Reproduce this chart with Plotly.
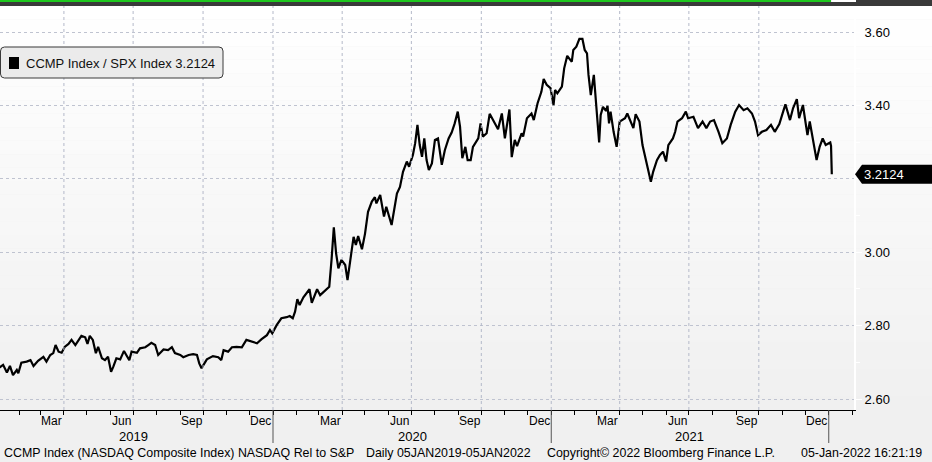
import pandas as pd
import plotly.graph_objects as go

# CCMP / SPX ratio
dates = [
    "2019-01-05", "2019-01-11", "2019-01-16", "2019-01-20", "2019-01-24", "2019-01-29", "2019-01-31",
    "2019-02-04", "2019-02-11", "2019-02-16", "2019-02-20", "2019-02-26", "2019-03-05", "2019-03-09",
    "2019-03-14", "2019-03-18", "2019-03-21", "2019-03-25", "2019-03-29", "2019-04-02", "2019-04-07",
    "2019-04-11", "2019-04-16", "2019-04-20", "2019-04-24", "2019-04-29", "2019-05-02", "2019-05-05",
    "2019-05-09", "2019-05-13", "2019-05-16", "2019-05-21", "2019-05-25", "2019-05-29", "2019-06-02",
    "2019-06-05", "2019-06-09", "2019-06-14", "2019-06-19", "2019-06-22", "2019-06-26", "2019-06-29",
    "2019-07-06", "2019-07-10", "2019-07-17", "2019-07-21", "2019-07-25", "2019-07-30", "2019-08-03",
    "2019-08-10", "2019-08-16", "2019-08-21", "2019-08-25", "2019-09-01", "2019-09-05", "2019-09-12",
    "2019-09-18", "2019-09-23", "2019-09-26", "2019-09-29", "2019-10-06", "2019-10-14", "2019-10-21",
    "2019-10-25", "2019-10-28", "2019-11-03", "2019-11-08", "2019-11-14", "2019-11-21", "2019-11-27",
    "2019-12-04", "2019-12-11", "2019-12-17", "2019-12-24", "2019-12-28", "2019-12-31",
    "2020-01-06", "2020-01-12", "2020-01-19", "2020-01-23", "2020-01-27", "2020-01-30", "2020-02-02",
    "2020-02-05", "2020-02-10", "2020-02-18", "2020-02-21", "2020-02-28", "2020-03-03", "2020-03-09",
    "2020-03-15", "2020-03-18", "2020-03-21", "2020-03-24", "2020-03-27", "2020-03-31", "2020-04-05",
    "2020-04-08", "2020-04-12", "2020-04-16", "2020-04-19", "2020-04-22", "2020-04-27", "2020-05-01",
    "2020-05-05", "2020-05-10", "2020-05-14", "2020-05-16", "2020-05-21", "2020-05-23", "2020-05-26",
    "2020-05-29", "2020-06-05", "2020-06-12", "2020-06-16", "2020-06-20", "2020-06-25", "2020-06-28",
    "2020-07-03", "2020-07-06", "2020-07-09", "2020-07-12", "2020-07-15", "2020-07-18", "2020-07-21",
    "2020-07-24", "2020-07-28", "2020-08-01", "2020-08-05", "2020-08-10", "2020-08-14", "2020-08-19",
    "2020-08-23", "2020-08-27", "2020-08-31", "2020-09-03", "2020-09-06", "2020-09-10", "2020-09-13",
    "2020-09-17", "2020-09-20", "2020-09-27", "2020-09-30", "2020-10-03", "2020-10-08", "2020-10-12",
    "2020-10-17", "2020-10-23", "2020-10-28", "2020-11-01", "2020-11-07", "2020-11-10", "2020-11-14",
    "2020-11-17", "2020-11-23", "2020-11-25", "2020-11-30", "2020-12-06", "2020-12-09", "2020-12-14",
    "2020-12-19", "2020-12-22", "2020-12-26", "2020-12-31",
    "2021-01-04", "2021-01-06", "2021-01-09", "2021-01-15", "2021-01-18", "2021-01-22", "2021-01-26",
    "2021-01-28", "2021-01-30", "2021-02-03", "2021-02-07", "2021-02-11", "2021-02-14", "2021-02-17",
    "2021-02-19", "2021-02-22", "2021-02-26", "2021-03-01", "2021-03-03", "2021-03-05", "2021-03-07",
    "2021-03-10", "2021-03-14", "2021-03-16", "2021-03-18", "2021-03-20", "2021-03-24", "2021-03-28",
    "2021-04-01", "2021-04-08", "2021-04-11", "2021-04-15", "2021-04-19", "2021-04-22", "2021-04-27",
    "2021-05-01", "2021-05-06", "2021-05-09", "2021-05-12", "2021-05-15", "2021-05-20", "2021-05-24",
    "2021-05-28", "2021-06-01", "2021-06-04", "2021-06-10", "2021-06-13", "2021-06-16", "2021-06-22",
    "2021-06-27", "2021-06-30", "2021-07-07", "2021-07-13", "2021-07-19", "2021-07-24", "2021-07-29",
    "2021-08-03", "2021-08-09", "2021-08-14", "2021-08-20", "2021-08-25", "2021-08-31", "2021-09-05",
    "2021-09-11", "2021-09-16", "2021-09-22", "2021-09-26", "2021-09-30", "2021-10-05", "2021-10-11",
    "2021-10-17", "2021-10-22", "2021-10-28", "2021-11-02", "2021-11-05", "2021-11-11", "2021-11-15",
    "2021-11-20", "2021-11-23", "2021-11-28", "2021-12-02", "2021-12-04", "2021-12-07", "2021-12-12",
    "2021-12-16", "2021-12-20", "2021-12-24", "2021-12-28", "2022-01-03", "2022-01-04", "2022-01-05",
]
ratio = [
    2.684, 2.693, 2.672, 2.690, 2.665, 2.679, 2.670,
    2.699, 2.702, 2.706, 2.690, 2.704, 2.715, 2.702,
    2.720, 2.725, 2.747, 2.729, 2.726, 2.742, 2.750,
    2.761, 2.747, 2.761, 2.772, 2.768, 2.750, 2.772,
    2.761, 2.725, 2.742, 2.711, 2.706, 2.715, 2.674,
    2.688, 2.711, 2.708, 2.731, 2.720, 2.706, 2.729,
    2.726, 2.738, 2.741, 2.747, 2.753, 2.747, 2.720,
    2.735, 2.733, 2.741, 2.725, 2.720, 2.714, 2.720,
    2.722, 2.720, 2.697, 2.684, 2.708, 2.717, 2.714,
    2.706, 2.733, 2.729, 2.741, 2.742, 2.741, 2.761,
    2.756, 2.752, 2.763, 2.774, 2.788, 2.779,
    2.802, 2.820, 2.823, 2.826, 2.820, 2.838, 2.872,
    2.856, 2.877, 2.899, 2.862, 2.899, 2.883, 2.895,
    2.906, 2.979, 3.068, 2.997, 2.956, 2.979, 2.965,
    2.924, 2.979, 3.042, 3.020, 3.044, 3.008, 3.050,
    3.110, 3.138, 3.150, 3.133, 3.156, 3.133, 3.097,
    3.124, 3.074, 3.160, 3.178, 3.219, 3.247, 3.233,
    3.265, 3.297, 3.347, 3.292, 3.260, 3.310, 3.251,
    3.224, 3.242, 3.306, 3.310, 3.238, 3.278, 3.310,
    3.326, 3.351, 3.383, 3.342, 3.256, 3.287, 3.251,
    3.251, 3.287, 3.310, 3.351, 3.315, 3.324, 3.377,
    3.356, 3.335, 3.378, 3.310, 3.389, 3.259, 3.306,
    3.289, 3.324, 3.315, 3.365, 3.378, 3.360, 3.406,
    3.437, 3.472, 3.456, 3.447,
    3.401, 3.442, 3.433, 3.451, 3.501, 3.535, 3.524,
    3.519, 3.551, 3.560, 3.581, 3.581, 3.551, 3.542,
    3.483, 3.428, 3.483, 3.401, 3.360, 3.299, 3.374,
    3.396, 3.385, 3.399, 3.351, 3.383, 3.328, 3.287,
    3.356, 3.365, 3.378, 3.360, 3.338, 3.376, 3.356,
    3.292, 3.247, 3.219, 3.192, 3.219, 3.251, 3.265,
    3.274, 3.247, 3.292, 3.310, 3.328, 3.356, 3.365,
    3.383, 3.365, 3.369, 3.338, 3.356, 3.338, 3.356,
    3.360, 3.328, 3.297, 3.310, 3.347, 3.383, 3.401,
    3.387, 3.392, 3.378, 3.356, 3.319, 3.328, 3.333,
    3.347, 3.328, 3.349, 3.383, 3.403, 3.360, 3.392,
    3.417, 3.365, 3.401, 3.347, 3.319, 3.356, 3.301,
    3.251, 3.287, 3.310, 3.292, 3.299, 3.290, 3.2124,
]

series_name = "CCMP Index / SPX Index"
month_names = ["Mar", "Jun", "Sep", "Dec"]
years = ["2019", "2020", "2021"]
y_ticks = [2.60, 2.80, 3.00, 3.20, 3.40, 3.60]
footer = [
    "CCMP Index (NASDAQ Composite Index) NASDAQ Rel to S&P",
    "Daily 05JAN2019-05JAN2022",
    "Copyright\u00a9 2022 Bloomberg Finance L.P.",
    "05-Jan-2022 16:21:19",
]

W, H = 932, 462
L, R, T, B = 0, 78, 9, 52
PW, PH = W - L - R, H - T - B
FONT = "Liberation Sans, Arial, sans-serif"
GRID = "#bfc3d0"
VGRID = "#b4b9c9"


def px(x):  # pixel -> paper x
    return (x - L) / PW


def py(y):  # pixel -> paper y
    return (H - B - y) / PH


last = ratio[-1]
origin = pd.Timestamp("2019-01-01")
day_px = 277.5 / 365
x_range = [origin + pd.Timedelta(days=4.5 / day_px), origin + pd.Timedelta(days=858.5 / day_px)]
y_range = [3.60 - (410 - 32) / 367, 3.60 + (32 - 9) / 367]

fig = go.Figure()
fig.add_trace(go.Scatter(x=pd.to_datetime(dates), y=ratio, mode="lines",
                         line=dict(color="black", width=2.2), hoverinfo="skip"))

shapes = []
# soft white -> grey background
n = 30
for i in range(n):
    g = int(round(255 - 15 * i / (n - 1)))
    shapes.append(dict(type="rect", xref="paper", yref="paper", layer="below",
                       x0=px(0), x1=px(W), y0=py(6 + i * 404 / n), y1=py(6 + (i + 1) * 404 / n),
                       fillcolor=f"rgb({g},{g},{g})", line_width=0))
# quarterly vertical grid (start of Apr / Jul / Oct / Jan)
for d in pd.date_range("2019-04-01", "2021-12-31", freq="QS"):
    ds = d.strftime("%Y-%m-%d")
    shapes.append(dict(type="line", xref="x", yref="paper", x0=ds, x1=ds, y0=0, y1=py(6),
                       line=dict(color=VGRID, width=1, dash="3px,3px")))
# year separators under the axis
for d in pd.date_range("2020-01-01", "2022-01-01", freq="YS"):
    shapes.append(dict(type="line", xref="x", yref="paper", x0=d, x1=d, y0=0, y1=py(443),
                       line=dict(color="#555555", width=1)))
# top strip
shapes.append(dict(type="rect", xref="paper", yref="paper", x0=px(0), x1=px(W), y0=py(6), y1=py(2),
                   fillcolor="#3a3a3a", line_width=0))
shapes.append(dict(type="rect", xref="paper", yref="paper", x0=px(0), x1=px(831), y0=py(2), y1=py(0),
                   fillcolor="#1ec81e", line_width=0))
shapes.append(dict(type="rect", xref="paper", yref="paper", x0=px(832), x1=px(856), y0=py(2), y1=py(0),
                   fillcolor="#ffffff", line_width=0))
shapes.append(dict(type="rect", xref="paper", yref="paper", x0=px(856), x1=px(W), y0=py(2), y1=py(0),
                   fillcolor="#3a3a3a", line_width=0))

# legend box with rounded corners
x0, x1, y0, y1, r = px(0.5), px(223), py(78), py(47), 4
rx, ry = r / PW, r / PH
legend_path = (f"M {x0 + rx},{y0} L {x1 - rx},{y0} Q {x1},{y0} {x1},{y0 + ry} "
               f"L {x1},{y1 - ry} Q {x1},{y1} {x1 - rx},{y1} L {x0 + rx},{y1} "
               f"Q {x0},{y1} {x0},{y1 - ry} L {x0},{y0 + ry} Q {x0},{y0} {x0 + rx},{y0} Z")
shapes.append(dict(type="path", xref="paper", yref="paper", path=legend_path,
                   fillcolor="#ebebeb", line=dict(color="#3a3a3a", width=1)))
shapes.append(dict(type="rect", xref="paper", yref="paper", x0=px(9), x1=px(19), y0=py(69), y1=py(57),
                   fillcolor="black", line_width=0))

# last value tag on the right axis
hy = 9.5 / 367
tag_path = (f"M {px(855)},{last} L {px(862)},{last + hy} L {px(W)},{last + hy} "
            f"L {px(W)},{last - hy} L {px(862)},{last - hy} Z")
shapes.append(dict(type="path", xref="paper", yref="y", path=tag_path, fillcolor="black", line_width=0))

annotations = [
    dict(text=f"{series_name} {last:.4f}", xref="paper", yref="paper", x=px(24), y=py(63),
         xanchor="left", yanchor="middle", showarrow=False, font=dict(family=FONT, size=13, color="#111111")),
    dict(text=f"{last:.4f}", xref="paper", yref="y", x=px(862), y=last, xanchor="left", yanchor="middle",
         showarrow=False, font=dict(family=FONT, size=13, color="white")),
]
# month labels sit in the middle of the month
month_mid = pd.date_range("2019-03-01", "2021-12-31", freq="QS-MAR") + pd.Timedelta(days=15)
for d, name in zip(month_mid, month_names * len(years)):
    annotations.append(dict(text=name, xref="x", yref="paper", x=d, y=py(421),
                            xanchor="center", yanchor="middle", showarrow=False,
                            font=dict(family=FONT, size=12, color="black")))
for yr in years:
    annotations.append(dict(text=yr, xref="x", yref="paper", x=pd.Timestamp(f"{yr}-07-02"), y=py(436),
                            xanchor="center", yanchor="middle", showarrow=False,
                            font=dict(family=FONT, size=13, color="black")))
for txt, xl in zip(footer, [2, 364, 545, 799]):
    annotations.append(dict(text=txt, xref="paper", yref="paper", x=px(xl), y=py(453),
                            xanchor="left", yanchor="middle", showarrow=False,
                            font=dict(family=FONT, size=12.4, color="black")))

# the 3.20 label is covered by the last-value tag in the original
y_text = ["" if abs(v - 3.20) < 1e-9 else f"{v:.2f}" for v in y_ticks]

fig.update_layout(
    width=W, height=H,
    margin=dict(l=L, r=R, t=T, b=B),
    paper_bgcolor="#f0f0f0",
    plot_bgcolor="rgba(0,0,0,0)",
    showlegend=False,
    shapes=shapes,
    annotations=annotations,
    xaxis=dict(
        range=x_range, zeroline=False, showgrid=False,
        showline=True, linecolor="black", linewidth=1,
        showticklabels=False,
        ticks="outside", ticklen=4, tickcolor="black", dtick="M1", tick0="2019-01-01",
    ),
    yaxis=dict(
        range=y_range, side="right", zeroline=False,
        showgrid=True, gridcolor=GRID, griddash="dot", gridwidth=1,
        showline=True, linecolor="white", linewidth=2,
        tickmode="array", tickvals=y_ticks, ticktext=y_text,
        ticks="outside", ticklen=6, tickcolor="white",
        tickfont=dict(family=FONT, size=13, color="black"),
        minor=dict(ticks="outside", ticklen=4, tickcolor="white", dtick=0.1, tick0=2.6, showgrid=False),
    ),
)

# page margin would push the figure 8px off the window
fig.write_html("out.html", config={"displayModeBar": False},
               post_script="document.body.style.margin='0';")
